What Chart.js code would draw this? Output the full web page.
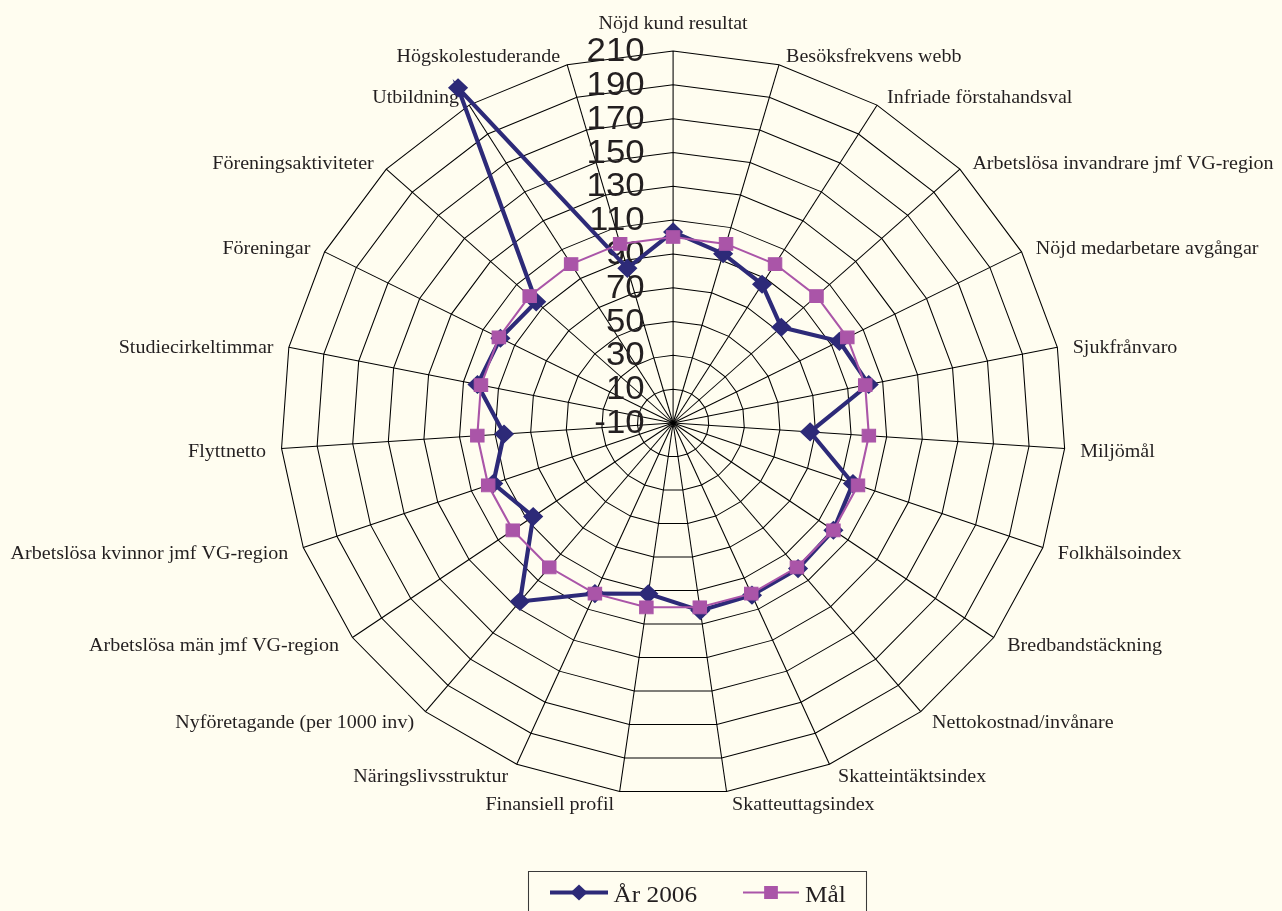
<!DOCTYPE html>
<html><head><meta charset="utf-8">
<script src="https://cdn.jsdelivr.net/npm/chart.js@4.4.1/dist/chart.umd.min.js"></script>
<style>
html,body{margin:0;padding:0;background:#FFFDF0;overflow:hidden}
canvas{display:block}
</style></head><body>
<canvas id="c" width="1282" height="911" style="width:1282px;height:911px"></canvas>
<script>
const categories = [
  'Nöjd kund resultat', 'Besöksfrekvens webb', 'Infriade förstahandsval',
  'Arbetslösa invandrare jmf VG-region', 'Nöjd medarbetare avgångar', 'Sjukfrånvaro',
  'Miljömål', 'Folkhälsoindex', 'Bredbandstäckning', 'Nettokostnad/invånare',
  'Skatteintäktsindex', 'Skatteuttagsindex', 'Finansiell profil', 'Näringslivsstruktur',
  'Nyföretagande (per 1000 inv)', 'Arbetslösa män jmf VG-region',
  'Arbetslösa kvinnor jmf VG-region', 'Flyttnetto', 'Studiecirkeltimmar', 'Föreningar',
  'Föreningsaktiviteter', 'Utbildning', 'Högskolestuderande'
];
const ar2006 = [103, 94, 86, 73, 95, 102, 67, 97, 100, 101, 101, 102, 92, 100, 126, 86, 97, 85, 102, 99, 95, 222, 85];
const mal    = [100, 100, 100, 100, 100, 100, 100, 100, 100, 100, 100, 100, 100, 100, 100, 100, 100, 100, 100, 100, 100, 100, 100];
const tickValues = [-10, 10, 30, 50, 70, 90, 110, 130, 150, 170, 190, 210];
const seriesNames = ['År 2006', 'Mål'];

const S = 1.055;            // horizontal stretch of the original picture
const BG = '#FFFDF0';
const NAVY = '#2D2A78';
const MAG = '#AA55A8';
const TXT = '#231F20';
const X = v => v / S;

const stretch = {
  id: 'stretch',
  beforeDraw(chart) {
    const ctx = chart.ctx;
    ctx.save();
    ctx.fillStyle = BG;
    ctx.fillRect(0, 0, chart.width, chart.height);
    ctx.scale(S, 1);
  },
  beforeDatasetsDraw(chart) {
    const sc = chart.scales.r, ctx = chart.ctx;
    ctx.save();
    ctx.fillStyle = TXT;
    ctx.font = '33px "Liberation Sans", Arial, sans-serif';
    ctx.textAlign = 'right';
    ctx.textBaseline = 'middle';
    tickValues.forEach(v => {
      const d = sc.getDistanceFromCenterForValue(v);
      ctx.fillText(String(v), sc.xCenter - 27, sc.yCenter - d + 1);
    });
    ctx.font = '19px "Liberation Serif", "Times New Roman", serif';
    const R = sc.getDistanceFromCenterForValue(sc.max);
    categories.forEach((lab, i) => {
      const ang = sc.getIndexAngle(i);
      const sn = Math.sin(ang), cs = Math.cos(ang);
      ctx.textBaseline = 'middle';
      if (Math.abs(sn) < 0.05) {
        ctx.textAlign = 'center';
        const p = sc.getPointPosition(i, R + (cs > 0 ? 29 : 11));
        ctx.fillText(lab, p.x, p.y + 2);
      } else {
        const p = sc.getPointPosition(i, R + 11);
        ctx.textAlign = sn > 0 ? 'left' : 'right';
        ctx.fillText(lab, p.x + (sn > 0 ? 4 : -4) / S, p.y + 2.5);
      }
    });
    ctx.restore();
  },
  afterDraw(chart) {
    const ctx = chart.ctx;
    ctx.save();
    ctx.strokeStyle = '#3a3a3a';
    ctx.lineWidth = 1;
    ctx.strokeRect(X(528.5), 871.5, X(866.5) - X(528.5), 60);
    // År 2006
    ctx.strokeStyle = NAVY; ctx.lineWidth = 4;
    ctx.beginPath(); ctx.moveTo(X(550), 892.5); ctx.lineTo(X(608), 892.5); ctx.stroke();
    ctx.fillStyle = NAVY;
    const cx1 = X(579), cy = 892.5, r1 = 8;
    ctx.beginPath();
    ctx.moveTo(cx1 - r1, cy); ctx.lineTo(cx1, cy - r1); ctx.lineTo(cx1 + r1, cy); ctx.lineTo(cx1, cy + r1);
    ctx.closePath(); ctx.fill();
    // Mål
    ctx.strokeStyle = MAG; ctx.lineWidth = 2;
    ctx.beginPath(); ctx.moveTo(X(743), 892.5); ctx.lineTo(X(799), 892.5); ctx.stroke();
    ctx.fillStyle = MAG;
    ctx.fillRect(X(771) - 6.5, cy - 6.5, 13, 13);
    ctx.fillStyle = TXT;
    ctx.font = '24px "Liberation Serif", "Times New Roman", serif';
    ctx.textAlign = 'left';
    ctx.textBaseline = 'alphabetic';
    ctx.fillText(seriesNames[0], X(613.5), 901.5);
    ctx.fillText(seriesNames[1], X(805), 901.5);
    ctx.restore();
    ctx.restore();
  }
};

new Chart(document.getElementById('c'), {
  type: 'radar',
  data: {
    labels: categories,
    datasets: [
      { label: seriesNames[0], data: ar2006, borderColor: NAVY, backgroundColor: NAVY,
        borderWidth: 4, pointStyle: 'rectRot', pointRadius: 8.5, pointBorderWidth: 1.5,
        pointBackgroundColor: NAVY, pointBorderColor: NAVY, fill: false, order: 2, clip: false },
      { label: seriesNames[1], data: mal, borderColor: MAG, backgroundColor: MAG,
        borderWidth: 2, pointStyle: 'rect', pointRadius: 9, pointBorderWidth: 1,
        pointBackgroundColor: MAG, pointBorderColor: MAG, fill: false, order: 1, clip: false }
    ]
  },
  options: {
    responsive: false,
    animation: false,
    devicePixelRatio: 1,
    layout: { padding: { left: 238, right: 244, top: 51, bottom: 116 } },
    elements: { line: { tension: 0 } },
    plugins: { legend: { display: false }, tooltip: { enabled: false } },
    scales: {
      r: {
        min: tickValues[0],
        max: tickValues[tickValues.length - 1],
        ticks: { display: false, stepSize: tickValues[1] - tickValues[0], maxTicksLimit: 50 },
        pointLabels: { display: false },
        grid: { color: '#000', lineWidth: 1, circular: false },
        angleLines: { display: true, color: '#000', lineWidth: 1 }
      }
    }
  },
  plugins: [stretch]
});
</script>
</body></html>
